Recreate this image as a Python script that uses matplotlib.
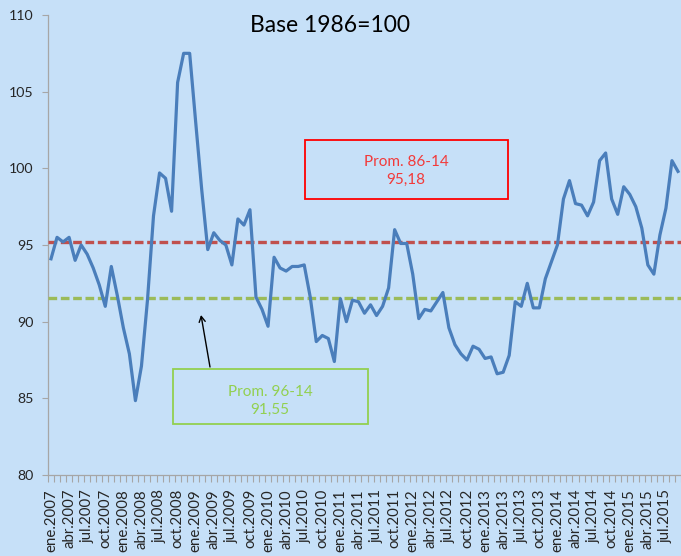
import matplotlib
matplotlib.use('Agg')
import matplotlib.pyplot as plt
from matplotlib.patches import Rectangle, FancyArrowPatch
import numpy as np

# ---------------- data ----------------
meses = ['ene', 'feb', 'mar', 'abr', 'may', 'jun', 'jul', 'ago', 'sep', 'oct', 'nov', 'dic']
anios = list(range(2007, 2016))

tcr = [
    94.1, 95.5, 95.2, 95.5, 94.0, 95.0, 94.4, 93.5, 92.4, 91.0, 93.6, 91.7,      # 2007
    89.6, 87.9, 84.85, 87.1, 91.4, 96.9, 99.7, 99.35, 97.2, 105.6, 107.5, 107.5,  # 2008
    103.0, 98.6, 94.7, 95.8, 95.3, 95.0, 93.7, 96.7, 96.3, 97.3, 91.6, 90.8,     # 2009
    89.7, 94.2, 93.5, 93.3, 93.6, 93.6, 93.7, 91.6, 88.7, 89.1, 88.9, 87.4,      # 2010
    91.5, 90.0, 91.4, 91.3, 90.55, 91.1, 90.4, 91.0, 92.2, 96.0, 95.1, 95.1,     # 2011
    93.1, 90.2, 90.8, 90.7, 91.3, 91.9, 89.6, 88.5, 87.9, 87.5, 88.4, 88.2,      # 2012
    87.6, 87.7, 86.6, 86.7, 87.8, 91.3, 91.0, 92.5, 90.9, 90.9, 92.8, 93.9,      # 2013
    95.0, 98.0, 99.2, 97.7, 97.6, 96.9, 97.8, 100.5, 101.0, 98.0, 97.0, 98.8,    # 2014
    98.3, 97.5, 96.1, 93.7, 93.1, 95.65, 97.4, 100.5, 99.8,                      # 2015
]
categorias = [f'{m}.{a}' for a in anios for m in meses][:len(tcr)]

prom_86_14 = 95.18
prom_96_14 = 91.55
etiqueta_86 = 'Prom. 86-14\n95,18'
etiqueta_96 = 'Prom. 96-14\n91,55'
titulo = 'Base 1986=100'

# ---------------- style ----------------
plt.rcParams['font.family'] = ['Lato', 'DejaVu Sans']
W, H = 681, 556
bg = '#C6E0F8'

fig = plt.figure(figsize=(W / 100, H / 100), dpi=100, facecolor=bg)


def fx(px):
    return px / W


def fy(py):
    return (H - py) / H


ax = fig.add_axes([fx(48), fy(475), fx(681 - 48), (475 - 15) / H])
ax.set_facecolor(bg)

x = np.arange(len(tcr))
ax.plot(x, tcr, color='#4A7EBB', lw=2.3, solid_joinstyle='round', zorder=4)

l1 = ax.axhline(prom_86_14, color='#C0504D', lw=2.4, zorder=3)
l1.set_dashes([2.6, 1.1])
l1.set_dash_capstyle('butt')
l2 = ax.axhline(prom_96_14, color='#9BBB59', lw=2.4, zorder=3)
l2.set_dashes([2.6, 1.1])
l2.set_dash_capstyle('butt')

ax.set_xlim(-0.5, len(tcr) - 0.5)
ax.set_ylim(80, 110)
ax.set_yticks(range(80, 111, 5))

ax.set_xticks(x[::3])
ax.set_xticklabels(categorias[::3], rotation=90, va='top', ha='center')
ax.set_xticks(np.arange(-0.5, len(tcr), 1), minor=True)

ax.tick_params(axis='x', which='major', length=0, pad=10, labelsize=10.8, labelcolor='#262626')
ax.tick_params(axis='x', which='minor', length=5, width=0.8, color='#A6A6A6', direction='out')
ax.tick_params(axis='y', which='major', length=4, width=0.8, color='#A6A6A6', pad=6.5,
               labelsize=10.2, labelcolor='#262626')

for s in ['top', 'right']:
    ax.spines[s].set_visible(False)
for s in ['left', 'bottom']:
    ax.spines[s].set_color('#A6A6A6')
    ax.spines[s].set_linewidth(0.9)

# title
fig.text(fx(330), fy(32), titulo, ha='center', va='baseline', fontsize=16.5, color='black')

# red box
fig.patches.append(Rectangle((fx(305), fy(199)), fx(508 - 305), (199 - 140) / H,
                             transform=fig.transFigure, fill=False, edgecolor='#FF0000',
                             lw=1.3, zorder=5))
fig.text(fx(406), fy(171), etiqueta_86, ha='center', va='center', fontsize=11,
         color='#F23A3A', linespacing=1.4)

# green box
fig.patches.append(Rectangle((fx(173), fy(424)), fx(368 - 173), (424 - 369) / H,
                             transform=fig.transFigure, fill=False, edgecolor='#92D050',
                             lw=1.3, zorder=5))
fig.text(fx(270), fy(401), etiqueta_96, ha='center', va='center', fontsize=11,
         color='#92D050', linespacing=1.4)

# arrow
arr = FancyArrowPatch((fx(210), fy(367)), (fx(201), fy(315)), transform=fig.transFigure,
                      arrowstyle='->,head_length=4,head_width=2.2', color='black', lw=1.0,
                      shrinkA=0, shrinkB=0)
fig.patches.append(arr)

fig.savefig('out.png', dpi=100, facecolor=bg)
